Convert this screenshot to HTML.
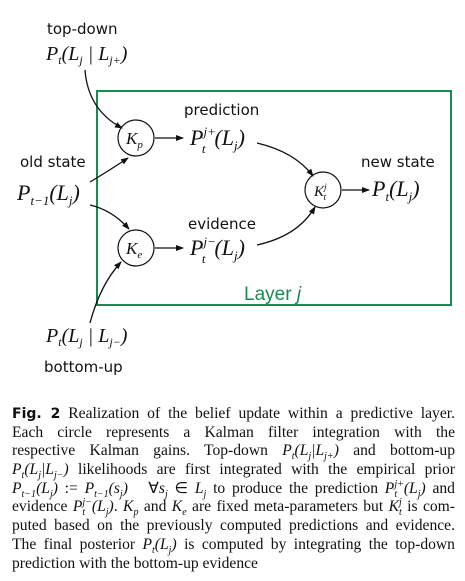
<!DOCTYPE html>
<html><head><style>
html,body{margin:0;padding:0;background:#fff;}
body{width:465px;height:581px;position:relative;overflow:hidden;}
svg{position:absolute;left:0;top:0;}
.s{font-family:"DejaVu Sans","Liberation Sans",sans-serif;font-size:15px;fill:#111;}
.m{font-family:"Liberation Serif",serif;font-style:italic;fill:#111;}
.cap{position:absolute;left:12px;top:405px;width:443px;font-family:"Liberation Serif",serif;font-size:15.6px;color:#111;}
.cap div{height:18.7px;line-height:18.7px;text-align:justify;text-align-last:justify;white-space:nowrap;overflow:visible;}
.cap div.l{text-align-last:left;}
.cap i{font-style:italic;}
.b{font-size:10px;position:relative;top:4px;line-height:0;}
.p{font-size:10px;position:relative;top:-6px;line-height:0;}
.bp{display:inline-block;width:0;font-size:10px;position:relative;top:4px;line-height:0;}
</style></head><body>
<svg width="465" height="390" viewBox="0 0 465 390">
<defs><marker id="a" markerWidth="8" markerHeight="6" refX="7" refY="3" orient="auto" markerUnits="userSpaceOnUse"><path d="M0,0 L8,3 L0,6 Z" fill="#111"/></marker></defs>
<rect x="97" y="91" width="354" height="214" fill="none" stroke="#1a8a55" stroke-width="2"/>
<text x="244" y="300" font-family="Liberation Sans,sans-serif" font-size="19" fill="#1a8a55">Layer <tspan font-style="italic">j</tspan></text>
<circle cx="136" cy="138" r="18" fill="#fff" stroke="#111" stroke-width="1.2"/>
<circle cx="136" cy="248" r="18" fill="#fff" stroke="#111" stroke-width="1.2"/>
<circle cx="323" cy="190" r="18" fill="#fff" stroke="#111" stroke-width="1.2"/>
<text class="m" x="126" y="144" font-size="17">K<tspan font-size="11" dy="4">p</tspan></text>
<text class="m" x="126" y="254" font-size="17">K<tspan font-size="11" dy="4">e</tspan></text>
<text class="m" x="314" y="196" font-size="15">K<tspan font-size="9" dy="-6">j</tspan><tspan font-size="9" dx="-3" dy="10">t</tspan></text>
<g fill="none" stroke="#111" stroke-width="1.3" marker-end="url(#a)">
<path d="M85,70 Q88,110 122,128"/>
<path d="M90,182 Q110,170 128,158"/>
<path d="M90,205 Q112,210 129,229"/>
<path d="M90,323 Q100,285 121,262"/>
<path d="M155,138 L183,138"/>
<path d="M155,248 L183,248"/>
<path d="M257,143 Q295,152 313,176"/>
<path d="M257,245 Q298,236 315,207"/>
<path d="M342,190 L369,190"/>
</g>
<text class="s" x="47" y="34">top-down</text>
<text class="m" x="46" y="60" font-size="20">P<tspan font-size="12" dy="4">t</tspan><tspan dy="-4">(L</tspan><tspan font-size="12" dy="4">j</tspan><tspan dy="-4"> | L</tspan><tspan font-size="12" dy="4">j+</tspan><tspan dy="-4">)</tspan></text>
<text class="s" x="20" y="167">old state</text>
<text class="m" x="17" y="200" font-size="22">P<tspan font-size="13" dy="5">t−1</tspan><tspan dy="-5">(L</tspan><tspan font-size="13" dy="5">j</tspan><tspan dy="-5">)</tspan></text>
<text class="s" x="184" y="115">prediction</text>
<text class="m" x="190" y="145" font-size="22">P<tspan font-size="13" dy="-9">j+</tspan><tspan font-size="13" dx="-14" dy="17">t</tspan><tspan dx="9" dy="-8">(L</tspan><tspan font-size="13" dy="5">j</tspan><tspan dy="-5">)</tspan></text>
<text class="s" x="361" y="167">new state</text>
<text class="m" x="372" y="196" font-size="22">P<tspan font-size="13" dy="5">t</tspan><tspan dy="-5">(L</tspan><tspan font-size="13" dy="5">j</tspan><tspan dy="-5">)</tspan></text>
<text class="s" x="188" y="229">evidence</text>
<text class="m" x="190" y="255" font-size="22">P<tspan font-size="13" dy="-9">j−</tspan><tspan font-size="13" dx="-14" dy="17">t</tspan><tspan dx="9" dy="-8">(L</tspan><tspan font-size="13" dy="5">j</tspan><tspan dy="-5">)</tspan></text>
<text class="m" x="46" y="342" font-size="20">P<tspan font-size="12" dy="4">t</tspan><tspan dy="-4">(L</tspan><tspan font-size="12" dy="4">j</tspan><tspan dy="-4"> | L</tspan><tspan font-size="12" dy="4">j−</tspan><tspan dy="-4">)</tspan></text>
<text class="s" x="44" y="372">bottom-up</text>
</svg>
<div class="cap">
<div><b style="font-family:'DejaVu Sans',sans-serif;font-size:14px;">Fig. 2</b> Realization of the belief update within a predictive layer.</div>
<div>Each circle represents a Kalman filter integration with the</div>
<div>respective Kalman gains. Top-down <i>P<span class="b">t</span>(L<span class="b">j</span>|L<span class="b">j+</span>)</i> and bottom-up</div>
<div><i>P<span class="b">t</span>(L<span class="b">j</span>|L<span class="b">j−</span>)</i> likelihoods are first integrated with the empirical prior</div>
<div><i>P<span class="b">t−1</span>(L<span class="b">j</span>)</i> := <i>P<span class="b">t−1</span>(s<span class="b">j</span>)</i> &nbsp; ∀<i>s<span class="b">j</span></i> ∈ <i>L<span class="b">j</span></i> to produce the prediction <i>P<span class="bp">t</span><span class="p">j+</span>(L<span class="b">j</span>)</i> and</div>
<div>evidence <i>P<span class="bp">t</span><span class="p">j−</span>(L<span class="b">j</span>)</i>. <i>K<span class="b">p</span></i> and <i>K<span class="b">e</span></i> are fixed meta-parameters but <i>K<span class="bp">t</span><span class="p">j</span></i> is com-</div>
<div>puted based on the previously computed predictions and evidence.</div>
<div>The final posterior <i>P<span class="b">t</span>(L<span class="b">j</span>)</i> is computed by integrating the top-down</div>
<div class="l">prediction with the bottom-up evidence</div>
</div>
</body></html>
